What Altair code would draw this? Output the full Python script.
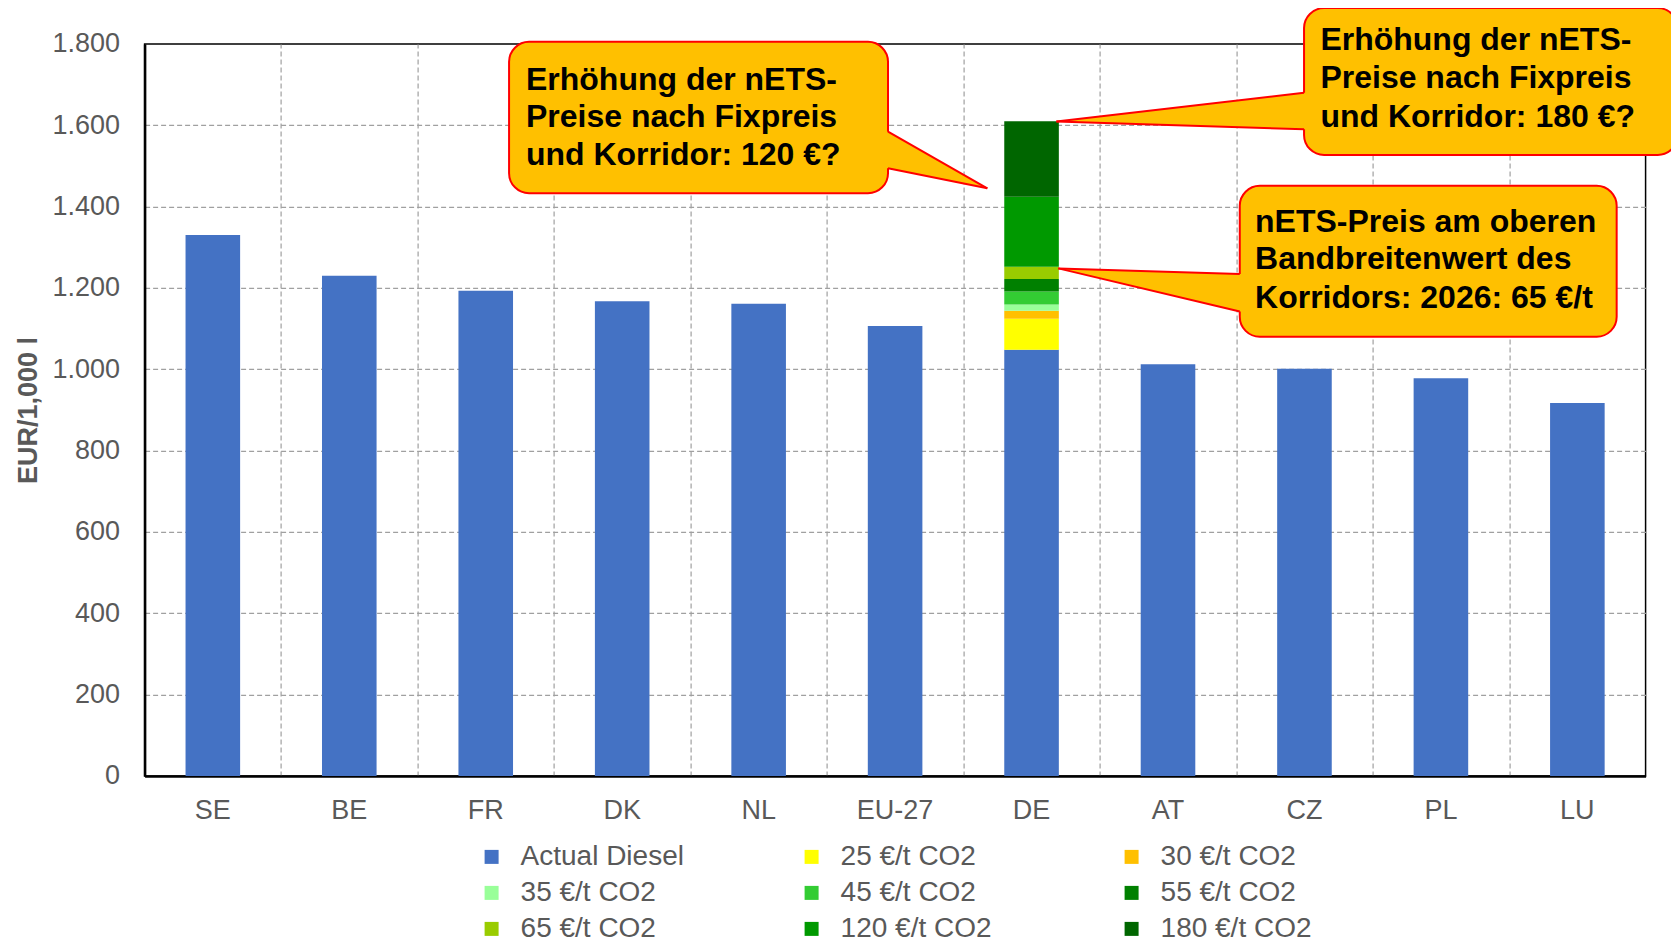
import altair as alt
import pandas as pd

# ---------------- data ----------------
countries = ["SE", "BE", "FR", "DK", "NL", "EU-27", "DE", "AT", "CZ", "PL", "LU"]
actual_diesel = [1330, 1230, 1193, 1167, 1161, 1106, 1048, 1012, 1001, 978, 917]

series = ["Actual Diesel", "25 €/t CO2", "30 €/t CO2", "35 €/t CO2", "45 €/t CO2",
          "55 €/t CO2", "65 €/t CO2", "120 €/t CO2", "180 €/t CO2"]
colors = ["#4472C4", "#FFFF00", "#FFC000", "#99FF99", "#33CC33",
          "#008000", "#99CC00", "#009900", "#006600"]
# increments stacked on the DE bar
de_increments = [76, 20, 15, 32, 31, 30, 172, 186]

y_ticks = [0, 200, 400, 600, 800, 1000, 1200, 1400, 1600, 1800]
x_grid = [1, 2, 3, 4, 5, 6, 7, 8, 9, 10]

# callout annotations (x in category units 0..11, y in EUR/1,000 l)
box_id = ["c1", "c2", "c3"]
box_x1 = [2.671, 8.497, 8.026]
box_x2 = [5.448, 11.236, 10.788]
box_y1 = [1805, 1888, 1451]
box_y2 = [1433, 1527, 1080]

tail_id = ["c1", "c1", "c1", "c2", "c2", "c2", "c3", "c3", "c3"]
tail_x = [5.40, 5.448, 6.176, 6.682, 8.497, 8.54, 6.696, 8.026, 8.07]
tail_y = [1584, 1584, 1445, 1609, 1680, 1680, 1248, 1234, 1234]
tail_y2 = [1494, 1494, 1445, 1609, 1590, 1590, 1248, 1142, 1142]

edge_x = [5.448, 5.448, 8.497, 8.497, 8.026, 8.026]
edge_y = [1584, 1494, 1680, 1590, 1234, 1142]
edge_x2 = [6.176, 6.176, 6.682, 6.682, 6.696, 6.696]
edge_y2 = [1445, 1445, 1609, 1609, 1248, 1248]

text_lines = ["Erhöhung der nETS-", "Preise nach Fixpreis", "und Korridor: 120 €?",
              "Erhöhung der nETS-", "Preise nach Fixpreis", "und Korridor: 180 €?",
              "nETS-Preis am oberen", "Bandbreitenwert des", "Korridors: 2026: 65 €/t"]
text_x = [2.795] * 3 + [8.617] * 3 + [8.138] * 3
text_y = [1687, 1595, 1502, 1785, 1691, 1596, 1338, 1246, 1150]

# ---------------- tables ----------------
rows = []
for c, v in zip(countries, actual_diesel):
    rows.append({"country": c, "series": "Actual Diesel", "value": v, "ord": 0})
for i, (s, v) in enumerate(zip(series[1:], de_increments), start=1):
    rows.append({"country": "DE", "series": s, "value": v, "ord": i})
bars_df = pd.DataFrame(rows)

boxes_df = pd.DataFrame({"id": box_id, "x1": box_x1, "x2": box_x2, "y1": box_y1, "y2": box_y2})
tails_df = pd.DataFrame({"id": tail_id, "x": tail_x, "y": tail_y, "y2": tail_y2})
edges_df = pd.DataFrame({"x": edge_x, "y": edge_y, "x2": edge_x2, "y2": edge_y2})
text_df = pd.DataFrame({"t": text_lines, "x": text_x, "y": text_y})

GRAY = "#595959"
FONT = "Liberation Sans"
W, H = 1501, 732
yscale = alt.Scale(domain=[0, 1800], nice=False)
xq = alt.Scale(domain=[0, 11], nice=False, zero=False)

y_axis = alt.Axis(title="EUR/1,000 l", values=y_ticks,
                  labelExpr="replace(format(datum.value, ','), ',', '.')",
                  labelFontSize=27, labelColor=GRAY, labelFont=FONT,
                  labelPadding=25, ticks=False, tickSize=0,
                  domainColor="black", domainWidth=2.5,
                  grid=True, gridDash=[5, 3], gridColor="#A0A0A0", gridWidth=1.2,
                  gridOpacity={"condition": {"test": "datum.value === 0 || datum.value === 1800",
                                             "value": 0}, "value": 1},
                  titleFontSize=27, titleFont=FONT, titleColor=GRAY,
                  titleFontWeight="bold", titlePadding=10)

bars = alt.Chart(bars_df).mark_bar().encode(
    x=alt.X("country:N", sort=countries,
            scale=alt.Scale(paddingInner=0.6, paddingOuter=0.3),
            axis=alt.Axis(title=None, labelAngle=0, labelFontSize=27, labelColor=GRAY,
                          labelFont=FONT, labelPadding=22, ticks=False, tickSize=0,
                          domainColor="black", domainWidth=2.5, grid=False)),
    y=alt.Y("value:Q", stack="zero", scale=yscale, axis=y_axis),
    color=alt.Color("series:N", sort=series,
                    scale=alt.Scale(domain=series, range=colors),
                    legend=alt.Legend(title=None, orient="none", legendX=333, legendY=799,
                                      direction="horizontal",
                                      columns=3, gridAlign="all", columnPadding=113,
                                      rowPadding=8, symbolType="square", symbolSize=196,
                                      symbolStrokeWidth=0, labelFontSize=28,
                                      labelColor=GRAY, labelFont=FONT, labelOffset=15,
                                      labelLimit=300)),
    order=alt.Order("ord:Q", sort="ascending"),
)

box_layer = alt.Chart(boxes_df).mark_rect(
    fill="#FFC000", stroke="#FF0000", strokeWidth=2, cornerRadius=20
).encode(
    x=alt.X("x1:Q", scale=xq,
            axis=alt.Axis(values=x_grid, grid=True, labels=False, ticks=False,
                          domain=False, title=None, gridDash=[5, 3],
                          gridColor="#A0A0A0", gridWidth=1.2)),
    x2="x2:Q",
    y=alt.Y("y1:Q", scale=yscale, axis=y_axis), y2="y2:Q",
)

tail_layer = alt.Chart(tails_df).mark_area(
    color="#FFC000", fill="#FFC000", opacity=1, orient="vertical", interpolate="linear"
).encode(
    x=alt.X("x:Q", scale=xq, axis=None),
    y=alt.Y("y:Q", scale=yscale, axis=y_axis, stack=None), y2="y2:Q",
    detail="id:N",
)

edge_layer = alt.Chart(edges_df).mark_rule(stroke="#FF0000", strokeWidth=2).encode(
    x=alt.X("x:Q", scale=xq, axis=None), x2="x2:Q",
    y=alt.Y("y:Q", scale=yscale, axis=y_axis), y2="y2:Q",
)

text_layer = alt.Chart(text_df).mark_text(
    align="left", baseline="alphabetic", fontSize=32, fontWeight="bold",
    font=FONT, color="black"
).encode(
    x=alt.X("x:Q", scale=xq, axis=None),
    y=alt.Y("y:Q", scale=yscale, axis=y_axis),
    text="t:N",
)

chart = alt.layer(bars, box_layer, tail_layer, edge_layer, text_layer).resolve_scale(
    x="independent"
).properties(
    width=W, height=H,
    autosize=alt.AutoSizeParams(type="none"),
    padding={"left": 136.6, "top": 35.9, "right": 25, "bottom": 170},
    background="white",
).configure_view(
    stroke="black", strokeWidth=1.5
)

chart.save("out.html", embed_options={"renderer": "svg", "actions": False})
